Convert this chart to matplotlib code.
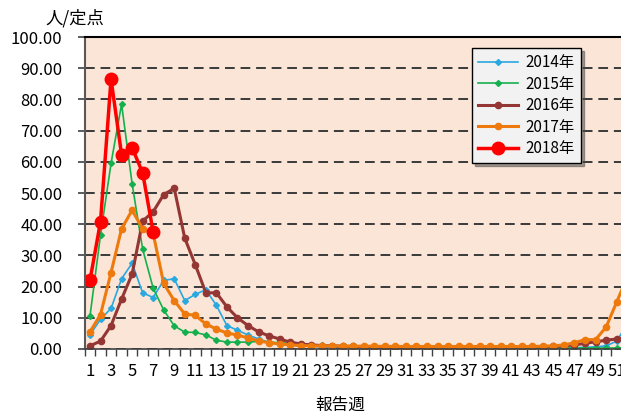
import matplotlib
matplotlib.use('Agg')
import matplotlib.pyplot as plt
import numpy as np

plt.rcParams['font.family'] = ['Noto Sans CJK JP', 'DejaVu Sans']

weeks = np.arange(1, 53)

# 人/定点, week 1..52
y2014 = [4.5, 9.5, 13, 22.5, 27.5, 18, 16.5, 22, 22.5, 15.5, 17.5, 19, 14, 7.5, 6, 4.5,
         3.2, 2.2, 1.6, 1.2, 1.0, 0.8, 0.7, 0.6, 0.5, 0.5, 0.4, 0.4, 0.3, 0.3, 0.3, 0.3,
         0.2, 0.2, 0.2, 0.2, 0.2, 0.2, 0.2, 0.2, 0.2, 0.2, 0.2, 0.3, 0.3, 0.3, 0.4, 0.5,
         0.7, 1.0, 2.5, 8.0]
y2015 = [10.5, 36.5, 59.5, 78.5, 53, 32, 19.5, 12.5, 7.4, 5.4, 5.3, 4.5, 2.8, 2.2, 2.2, 2.2,
         2.4, 2.2, 2.0, 1.8, 1.6, 1.4, 1.2, 1.0, 0.8, 0.7, 0.6, 0.5, 0.5, 0.4, 0.4, 0.4,
         0.3, 0.3, 0.3, 0.3, 0.3, 0.3, 0.3, 0.3, 0.3, 0.3, 0.3, 0.3, 0.3, 0.3, 0.3, 0.3,
         0.3, 0.3, 0.3, 0.4]
y2016 = [1.0, 2.5, 7.5, 16, 24, 41, 44, 49.5, 51.5, 35.5, 27, 18, 18, 13.5, 10, 7.5,
         5.5, 4.2, 3.2, 2.2, 1.6, 1.3, 1.1, 1.0, 0.9, 0.8, 0.7, 0.6, 0.6, 0.5, 0.5, 0.5,
         0.5, 0.5, 0.5, 0.5, 0.5, 0.5, 0.5, 0.5, 0.6, 0.6, 0.7, 0.7, 0.8, 1.0, 1.3, 1.8,
         2.3, 2.8, 3.2, 3.5]
y2017 = [5.5, 11, 24.5, 38.5, 44.5, 38.5, 37, 21, 15.5, 11.2, 10.8, 8.0, 6.4, 5.1, 4.5, 3.5,
         2.6, 2.0, 1.6, 1.3, 1.1, 1.0, 1.0, 1.0, 0.9, 0.9, 0.9, 0.9, 0.8, 0.8, 0.8, 0.8,
         0.8, 0.8, 0.8, 0.8, 0.8, 0.8, 0.8, 0.8, 0.8, 0.8, 0.8, 0.9, 1.0, 1.3, 2.0, 3.0,
         3.0, 7.0, 15.0, 23.0]
y2018 = [22.0, 40.8, 86.5, 62.3, 64.5, 56.5, 37.5]

fig = plt.figure(figsize=(6.21, 4.12), dpi=100)
ax = fig.add_axes([0.1364, 0.153, 0.882, 0.757])
ax.set_facecolor('#FBE5D6')

ax.plot(weeks, y2014, color='#2AA8E0', lw=1.2, marker='D', ms=3, label='2014年')
ax.plot(weeks, y2015, color='#14B04E', lw=1.2, marker='D', ms=3, label='2015年')
ax.plot(weeks, y2016, color='#943634', lw=2.2, marker='o', ms=4.5, label='2016年')
ax.plot(weeks, y2017, color='#EE7A0E', lw=2.2, marker='o', ms=4.5, label='2017年')
ax.plot(weeks[:len(y2018)], y2018, color='#FF0000', lw=2.5, marker='o', ms=9, label='2018年')

ax.set_xlim(0.5, 52.5)
ax.set_ylim(0, 100)

ax.set_yticks(np.arange(0, 101, 10))
ax.set_yticklabels(['%.2f' % v for v in np.arange(0, 101, 10)], fontsize=12)
ax.tick_params(axis='y', length=5, width=1.2, color='#404040', pad=11)
ax.yaxis.grid(True, color='#3a3a3a', lw=1.4, linestyle=(0, (5, 3)))
ax.set_axisbelow(True)

ax.set_xticks(np.arange(0.5, 53, 1))
ax.set_xticklabels([])
ax.set_xticks(np.arange(1, 53, 2), minor=True)
ax.set_xticklabels([str(w) for w in range(1, 53, 2)], minor=True, fontsize=12)
ax.tick_params(axis='x', which='major', length=5, width=1, color='#404040')
ax.tick_params(axis='x', which='minor', length=0, pad=10)

ax.spines['left'].set_color('#595959')
ax.spines['left'].set_linewidth(1.5)
ax.spines['bottom'].set_color('#404040')
ax.spines['bottom'].set_linewidth(1.2)
ax.spines['top'].set_color('black')
ax.spines['top'].set_linewidth(1.5)
ax.spines['right'].set_visible(False)

fig.text(75 / 621, 1 - 18 / 412, '人/定点', fontsize=12.5, ha='center', va='center')
fig.text(340 / 621, 1 - 405 / 412, '報告週', fontsize=12, ha='center', va='center')

leg = ax.legend(loc='upper left', bbox_to_anchor=(0.693, 0.99), fontsize=11,
                frameon=True, fancybox=False, shadow=True, handlelength=2.6,
                labelspacing=0.3, borderpad=0.4, handletextpad=0.5,
                facecolor='#F2F2F2', framealpha=1)
leg.get_frame().set_edgecolor('black')
leg.get_frame().set_linewidth(1)

fig.savefig('out.png', dpi=100)
